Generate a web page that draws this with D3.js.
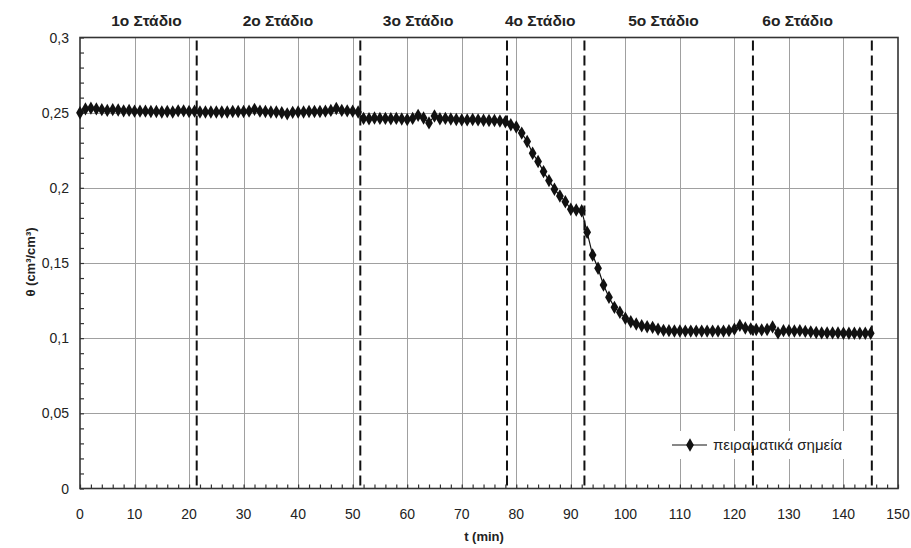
<!DOCTYPE html>
<html>
<head>
<meta charset="utf-8">
<script src="https://cdn.jsdelivr.net/npm/d3@7/dist/d3.min.js"></script>
<style>
  html, body { margin: 0; padding: 0; background: #fff; }
  svg { display: block; }
  text { font-family: "Liberation Sans", Arial, sans-serif; }
</style>
</head>
<body>
<svg id="chart" width="911" height="548"></svg>
<script>
// ---- data ----
const times = d3.range(0, 146); // minutes 0..145
const theta = [
  0.2500, 0.2525, 0.2530, 0.2525, 0.2520, 0.2515, 0.2520, 0.2518, 0.2512, 0.2515,
  0.2510, 0.2510, 0.2510, 0.2508, 0.2508, 0.2505, 0.2508, 0.2505, 0.2512, 0.2512,
  0.2508, 0.2510, 0.2505, 0.2505, 0.2505, 0.2505, 0.2505, 0.2505, 0.2508, 0.2508,
  0.2508, 0.2510, 0.2522, 0.2510, 0.2508, 0.2505, 0.2505, 0.2500, 0.2492, 0.2502,
  0.2505, 0.2505, 0.2508, 0.2508, 0.2508, 0.2510, 0.2515, 0.2528, 0.2515, 0.2512,
  0.2510, 0.2505, 0.2462, 0.2460, 0.2465, 0.2462, 0.2462, 0.2460, 0.2462, 0.2458,
  0.2455, 0.2462, 0.2482, 0.2465, 0.2432, 0.2478, 0.2460, 0.2462, 0.2458, 0.2455,
  0.2452, 0.2452, 0.2455, 0.2452, 0.2450, 0.2448, 0.2448, 0.2445, 0.2440, 0.2420,
  0.2405, 0.2364, 0.2308, 0.2230, 0.2175, 0.2108, 0.2048, 0.1991, 0.1946, 0.1908,
  0.1858, 0.1853, 0.1848, 0.1704, 0.1553, 0.1465, 0.1354, 0.1272, 0.1205, 0.1172,
  0.1132, 0.1109, 0.1094, 0.1083, 0.1076, 0.1072, 0.1059, 0.1052, 0.1050, 0.1048,
  0.1048, 0.1047, 0.1047, 0.1047, 0.1047, 0.1047, 0.1047, 0.1047, 0.1047, 0.1050,
  0.1060, 0.1085, 0.1068, 0.1062, 0.1058, 0.1055, 0.1058, 0.1075, 0.1035, 0.1050,
  0.1050, 0.1048, 0.1050, 0.1045, 0.1042, 0.1038, 0.1035, 0.1035, 0.1035, 0.1035,
  0.1033, 0.1033, 0.1033, 0.1033, 0.1033, 0.1033
];
const stageBounds = [21.4, 51.4, 78.3, 92.5, 123.4, 145.2];
const stageLabels = ["1ο Στάδιο", "2ο Στάδιο", "3ο Στάδιο", "4ο Στάδιο", "5ο Στάδιο", "6ο Στάδιο"];
const stageLabelPos = [12.2, 36.3, 62, 84.4, 107, 131.6];
const xTicks = [0, 10, 20, 30, 40, 50, 60, 70, 80, 90, 100, 110, 120, 130, 140, 150];
const yTicks = [0, 0.05, 0.1, 0.15, 0.2, 0.25, 0.3];
const yTickLabels = ["0", "0,05", "0,1", "0,15", "0,2", "0,25", "0,3"];
const xTitle = "t (min)";
const yTitle = "θ (cm³/cm³)";
const legendLabel = "πειραματικά σημεία";

// ---- layout ----
const svg = d3.select("#chart");
const L = 80, R = 898, T = 37.5, B = 488.5;
const x = d3.scaleLinear().domain([0, 150]).range([L, R]);
const y = d3.scaleLinear().domain([0, 0.3]).range([B, T]);

const data = times.map((t, i) => ({ t, v: theta[i] }));

// grid
const grid = svg.append("g").attr("stroke", "#a0a0a0").attr("stroke-width", 1);
grid.selectAll("line.v").data(xTicks.slice(1, -1)).join("line")
  .attr("x1", d => Math.round(x(d)) + 0.5).attr("x2", d => Math.round(x(d)) + 0.5)
  .attr("y1", T).attr("y2", B);
grid.selectAll("line.h").data(yTicks.slice(1, -1)).join("line")
  .attr("y1", d => Math.round(y(d)) + 0.5).attr("y2", d => Math.round(y(d)) + 0.5)
  .attr("x1", L).attr("x2", R);

// legend background (covers grid)
const lg = svg.append("g");
lg.append("rect").attr("x", 664).attr("y", 431).attr("width", 198).attr("height", 28).attr("fill", "#fff");

// stage dashed lines
svg.append("g").selectAll("line").data(stageBounds).join("line")
  .attr("x1", d => x(d)).attr("x2", d => x(d))
  .attr("y1", T + 3).attr("y2", B)
  .attr("stroke", "#111").attr("stroke-width", 2)
  .attr("stroke-dasharray", "10,5");

// axes (inward minor ticks)
const xAxis = d3.axisBottom(x).tickValues(d3.range(0, 151, 2)).tickSize(-4).tickFormat("");
svg.append("g").attr("transform", `translate(0,${B})`).call(xAxis)
  .call(g => g.select(".domain").remove())
  .call(g => g.selectAll("line").attr("stroke", "#333").attr("stroke-width", 1.2));
const yAxis = d3.axisLeft(y).tickValues(d3.range(0, 31).map(d => d / 100)).tickSize(-4).tickFormat("");
svg.append("g").attr("transform", `translate(${L},0)`).call(yAxis)
  .call(g => g.select(".domain").remove())
  .call(g => g.selectAll("line").attr("stroke", "#333").attr("stroke-width", 1.2));

// frame
svg.append("rect").attr("x", L).attr("y", T).attr("width", R - L).attr("height", B - T)
  .attr("fill", "none").attr("stroke", "#333").attr("stroke-width", 1.6);

// tick labels
svg.append("g").selectAll("text").data(xTicks).join("text")
  .attr("x", d => x(d)).attr("y", 518.5)
  .attr("text-anchor", "middle").attr("font-size", 14).attr("fill", "#222")
  .text(d => d);
svg.append("g").selectAll("text").data(yTicks).join("text")
  .attr("x", 69).attr("y", d => y(d) + 5)
  .attr("text-anchor", "end").attr("font-size", 14).attr("fill", "#222")
  .text((d, i) => yTickLabels[i]);

// axis titles
svg.append("text").attr("x", 484).attr("y", 541).attr("text-anchor", "middle")
  .attr("font-size", 13).attr("font-weight", "bold").attr("fill", "#222").text(xTitle);
svg.append("text").attr("transform", "translate(35,262) rotate(-90)").attr("text-anchor", "middle")
  .attr("font-size", 13).attr("font-weight", "bold").attr("fill", "#222").text(yTitle);

// stage labels
svg.append("g").selectAll("text").data(stageLabels).join("text")
  .attr("x", (d, i) => x(stageLabelPos[i])).attr("y", 26)
  .attr("text-anchor", "middle").attr("font-size", 15.5).attr("font-weight", "bold").attr("fill", "#222")
  .text(d => d);

// data line + markers
svg.append("path").datum(data)
  .attr("d", d3.line().x(d => x(d.t)).y(d => y(d.v)))
  .attr("fill", "none").attr("stroke", "#111").attr("stroke-width", 1.2);
const diamond = d3.symbol().type(d3.symbolDiamond).size(52);
svg.append("g").selectAll("path").data(data).join("path")
  .attr("transform", d => `translate(${x(d.t)},${y(d.v)})`)
  .attr("d", diamond).attr("fill", "#111");

// legend content
lg.append("line").attr("x1", 672).attr("x2", 707).attr("y1", 445).attr("y2", 445)
  .attr("stroke", "#111").attr("stroke-width", 1.2);
lg.append("path").attr("transform", "translate(690,445)").attr("d", diamond).attr("fill", "#111");
lg.append("text").attr("x", 713).attr("y", 450).attr("font-size", 15).attr("fill", "#222").text(legendLabel);
</script>
</body>
</html>
